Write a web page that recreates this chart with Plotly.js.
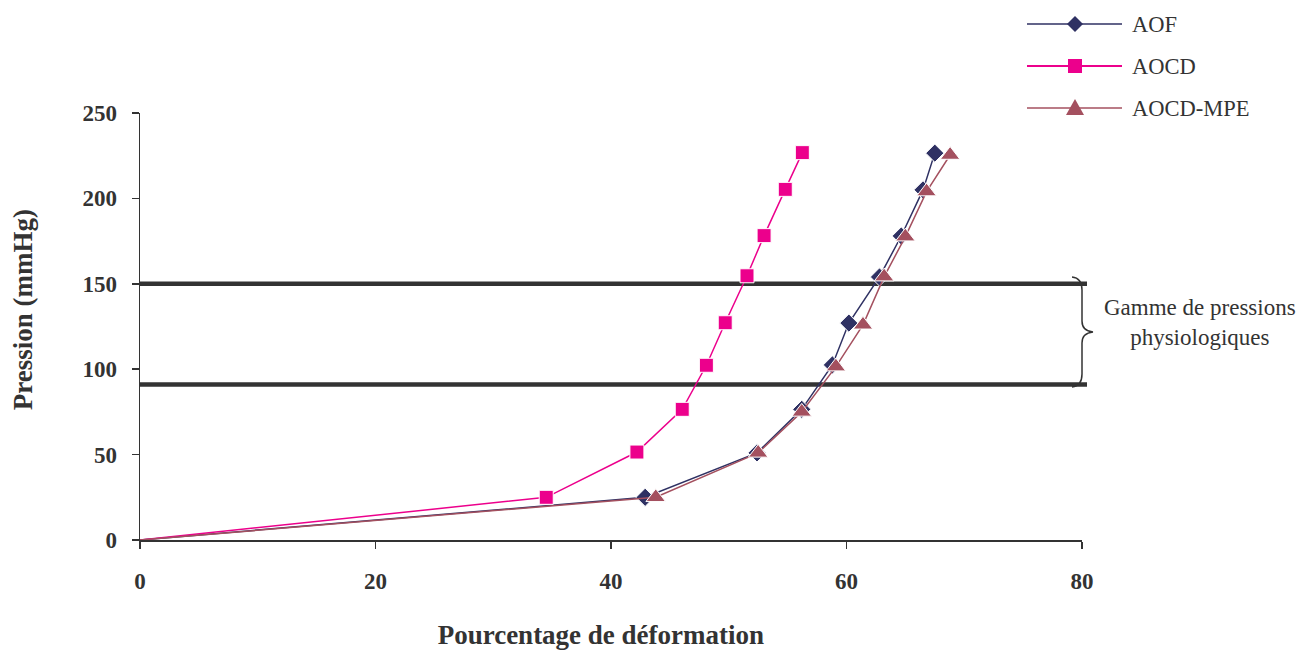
<!DOCTYPE html>
<html>
<head>
<meta charset="utf-8">
<script src="https://cdn.plot.ly/plotly-3.0.1.min.js"></script>
<style>html,body{margin:0;padding:0;background:#fff;}</style>
</head>
<body>
<div id="chart" style="width:1297px;height:650px;"></div>
<script>
// ---- Data ----
var seriesNames = ["AOF", "AOCD", "AOCD-MPE"];
var aofX  = [0, 42.9, 52.4, 56.2, 58.8, 60.2, 62.8, 64.65, 66.5, 67.5];
var aofY  = [0, 25, 51, 76.5, 102.5, 127, 154, 178, 205, 226.5];
var aocdX = [0, 34.5, 42.2, 46.05, 48.1, 49.7, 51.55, 53.0, 54.8, 56.25];
var aocdY = [0, 25, 51.5, 76.5, 102.3, 127.2, 154.7, 178.2, 205.3, 226.8];
var mpeX  = [0, 43.8, 52.5, 56.2, 59.1, 61.4, 63.2, 65.0, 66.8, 68.8];
var mpeY  = [0, 25, 51, 75, 101.5, 126, 154.2, 177.6, 204, 225.4];
var physioRange = [91, 150];           // physiological pressure band (mmHg)
var bandLabel = "Gamme de pressions<br>physiologiques";
var xTitle = "Pourcentage de déformation";
var yTitle = "Pression (mmHg)";
var xTickVals = [0, 20, 40, 60, 80];
var yTickVals = [0, 50, 100, 150, 200, 250];

// ---- Styles ----
var serif = "Liberation Serif, Times New Roman, serif";
var colAOF = "#2f3163", colAOCD = "#ec008c", colMPE = "#a4505f", ink = "#333333";
var W = 1297, H = 650, mL = 140, mR = 215, mT = 113, mB = 110;
var pw = W - mL - mR, ph = H - mT - mB;
function px(x) { return (x - mL) / pw; }          // pixel -> paper x (decorations only)
function py(y) { return (H - mB - y) / ph; }      // pixel -> paper y (decorations only)
// the origin point is drawn as line only (no marker), as in the reference
function sizes(arr, s) { return arr.map(function (v, i) { return i === 0 ? 0 : s; }); }

var traces = [
  {x: aofX, y: aofY, name: seriesNames[0], type: "scatter", mode: "lines+markers",
   line: {color: colAOF, width: 1.5},
   marker: {symbol: "diamond", size: sizes(aofX, 14), color: colAOF, opacity: 1}},
  {x: aocdX, y: aocdY, name: seriesNames[1], type: "scatter", mode: "lines+markers",
   line: {color: colAOCD, width: 1.5},
   marker: {symbol: "square", size: sizes(aocdX, 14), color: colAOCD, opacity: 1}},
  {x: mpeX, y: mpeY, name: seriesNames[2], type: "scatter", mode: "lines+markers",
   line: {color: colMPE, width: 1.5},
   marker: {symbol: "triangle-up", size: sizes(mpeX, 17), color: colMPE, opacity: 1}}
];

var shapes = [];
physioRange.forEach(function (v) {
  shapes.push({type: "line", xref: "paper", yref: "y", x0: 0, x1: px(1087), y0: v, y1: v,
               line: {color: ink, width: 4.5}, layer: "below"});
});
// brace
function P(x, y) { return px(x) + "," + py(y); }
shapes.push({type: "path", xref: "paper", yref: "paper", line: {color: ink, width: 1.5},
  path: "M" + P(1072, 277) + " Q" + P(1082, 278) + " " + P(1082, 290) + " L" + P(1082, 321) +
        " Q" + P(1082, 331) + " " + P(1093, 332) + " Q" + P(1082, 333) + " " + P(1082, 343) +
        " L" + P(1082, 374) + " Q" + P(1082, 386) + " " + P(1072, 387)});

// custom legend (long sample lines as in the reference)
var legCols = [colAOF, colAOCD, colMPE];
var legY = [24, 66, 108];
var legW = [1.5, 2, 1.5];
var annotations = [];
for (var i = 0; i < 3; i++) {
  var yy = legY[i];
  shapes.push({type: "line", xref: "paper", yref: "paper", x0: px(1027), x1: px(1122),
               y0: py(yy), y1: py(yy), line: {color: legCols[i], width: legW[i]}});
  var mk;
  if (i === 0) mk = "M" + P(1075, yy - 8) + " L" + P(1083, yy) + " L" + P(1075, yy + 8) + " L" + P(1067, yy) + " Z";
  else if (i === 1) mk = "M" + P(1068, yy - 7) + " L" + P(1082, yy - 7) + " L" + P(1082, yy + 7) + " L" + P(1068, yy + 7) + " Z";
  else mk = "M" + P(1075, yy - 9) + " L" + P(1084, yy + 7) + " L" + P(1066, yy + 7) + " Z";
  shapes.push({type: "path", xref: "paper", yref: "paper", path: mk,
               fillcolor: legCols[i], line: {color: legCols[i], width: 0}});
  annotations.push({xref: "paper", yref: "paper", x: px(1130), y: py(yy), xanchor: "left",
                    yanchor: "middle", showarrow: false, text: seriesNames[i],
                    font: {family: serif, size: 22.5, color: ink}});
}
annotations.push({xref: "paper", yref: "paper", x: px(1200), y: py(322), xanchor: "center",
                  yanchor: "middle", showarrow: false, text: bandLabel, align: "center",
                  font: {family: serif, size: 23, color: ink}});

var nb = function (n) { return new Array(n + 1).join("&nbsp;"); };

var layout = {
  width: W, height: H,
  margin: {l: mL, r: mR, t: mT, b: mB, pad: 0},
  paper_bgcolor: "#ffffff", plot_bgcolor: "#ffffff",
  showlegend: false,
  font: {family: serif, color: ink},
  xaxis: {
    range: [0, 80], tickvals: xTickVals, ticks: "outside", ticklen: 7, tickwidth: 1.5,
    tickcolor: ink, showline: true, linecolor: ink, linewidth: 1.5, showgrid: false,
    zeroline: false, ticklabelstandoff: 13,
    tickfont: {family: serif, size: 23, color: ink, weight: "bold"},
    title: {text: "<b>" + xTitle + "</b>" + nb(3), font: {family: serif, size: 27, color: ink}, standoff: 36}
  },
  yaxis: {
    range: [0, 250], tickvals: yTickVals, ticks: "outside", ticklen: 7, tickwidth: 1.5,
    tickcolor: ink, showline: true, linecolor: ink, linewidth: 1.5, showgrid: false,
    zeroline: false, ticklabelstandoff: 10,
    tickfont: {family: serif, size: 23, color: ink, weight: "bold"},
    title: {text: nb(5) + "<b>" + yTitle + "</b>", font: {family: serif, size: 27, color: ink}, standoff: 42}
  },
  shapes: shapes,
  annotations: annotations
};

Plotly.newPlot("chart", traces, layout, {displayModeBar: false, staticPlot: true});
</script>
</body>
</html>
